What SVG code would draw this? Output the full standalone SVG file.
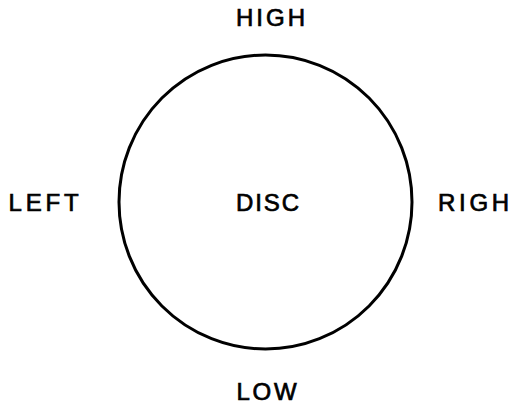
<svg xmlns="http://www.w3.org/2000/svg" width="513" height="404" viewBox="0 0 513 404">
<style>
.lbl{font-family:"Liberation Sans",Arial,sans-serif;font-size:24px;fill:#000;stroke:#000;stroke-width:0.7;letter-spacing:3px}
.disc{fill:none;stroke:#000;stroke-width:3}
</style>
<rect width="513" height="404" fill="#fff"/>
<g id="disc">
<ellipse class="disc" cx="265.5" cy="202" rx="146.5" ry="147"/>
<text class="lbl" x="236" y="211" style="letter-spacing:1.9px">DISC</text>
</g>
<g id="high"><text class="lbl" x="236" y="25.5">HIGH</text></g>
<g id="left"><text class="lbl" x="8.5" y="211" style="letter-spacing:3.8px">LEFT</text></g>
<g id="right"><text class="lbl" x="438" y="211" style="letter-spacing:3.7px">RIGH</text></g>
<g id="low"><text class="lbl" x="236.5" y="400" style="letter-spacing:2.7px">LOW</text></g>
<g id="connectors"></g>
</svg>
